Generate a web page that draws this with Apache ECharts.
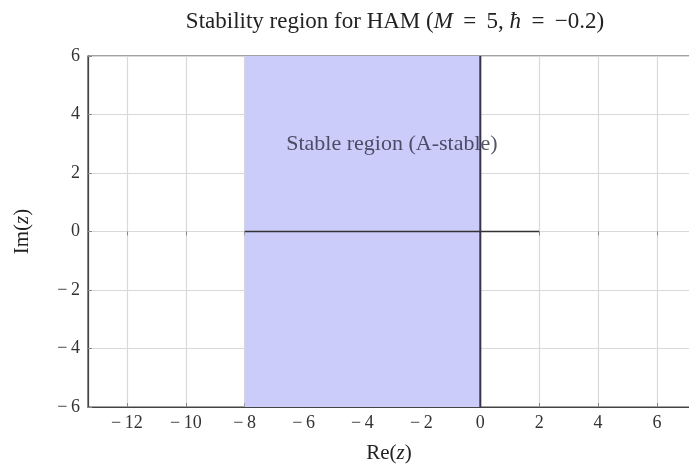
<!DOCTYPE html>
<html>
<head>
<meta charset="utf-8">
<script src="https://cdn.jsdelivr.net/npm/echarts@6/dist/echarts.min.js"></script>
<style>html,body{margin:0;padding:0;background:#fff}#c{width:689px;height:466px}</style>
</head>
<body>
<div id="c"></div>
<script>
// Data
const xTicks = [-12, -10, -8, -6, -4, -2, 0, 2, 4, 6];
const yTicks = [-6, -4, -2, 0, 2, 4, 6];
const xRange = [-13.32, 7.12];
const yRange = [-6, 6];
const stableRegionX = [-8, 0];
const stableRegionY = [-6, 6];
const realAxisLine = [[-8, 0], [2, 0]];
const imagAxisLine = [[0, -6], [0, 6]];
const regionLabel = { x: -3, y: 3, text: 'Stable region (A-stable)' };

const FONT = '"Liberation Serif", "DejaVu Serif", serif';
const minusFmt = v => (v < 0 ? '\u2212\u2009' + Math.abs(v) : String(v));
const TXT = '#222';

const chart = echarts.init(document.getElementById('c'));
chart.setOption({
  animation: false,
  backgroundColor: '#fff',
  title: {
    text: 'Stability region for HAM ({i|M} \u2009=\u2009 5, {i|\u0127} \u2009=\u2009 \u22120.2)',
    left: 390, top: 5, textAlign: 'center',
    textStyle: {
      fontFamily: FONT, fontSize: 23, fontWeight: 'normal', color: TXT,
      rich: { i: { fontFamily: FONT, fontSize: 23, fontStyle: 'italic', color: TXT } }
    }
  },
  grid: { left: 88, top: 56, width: 602, height: 351, outerBoundsMode: 'none', containLabel: false, show: true, borderColor: '#444', borderWidth: 1.2, backgroundColor: 'transparent' },
  xAxis: [{
    type: 'value', min: xRange[0], max: xRange[1],
    name: 'Re({i|z})', nameLocation: 'middle', nameGap: 36,
    nameTextStyle: { fontFamily: FONT, fontSize: 21, color: TXT, rich: { i: { fontFamily: FONT, fontSize: 21, fontStyle: 'italic', color: TXT } } },
    axisLine: { show: true, onZero: false, lineStyle: { color: '#444', width: 1.2 } },
    axisTick: { show: true, inside: true, length: 4, customValues: xTicks, lineStyle: { color: '#888' } },
    axisLabel: { customValues: xTicks, formatter: minusFmt, fontFamily: FONT, fontSize: 18, color: '#333', margin: 7 },
    splitLine: { show: true, lineStyle: { color: '#d9d9d9', width: 1.2 } }
  }, {
    type: 'value', position: 'top', min: xRange[0], max: xRange[1],
    axisLine: { show: false },
    axisTick: { show: true, inside: true, length: 4, customValues: xTicks, lineStyle: { color: '#888' } },
    axisLabel: { show: false },
    splitLine: { show: false }
  }],
  yAxis: {
    type: 'value', min: yRange[0], max: yRange[1], interval: 2,
    name: 'Im({i|z})', nameLocation: 'middle', nameGap: 55, nameRotate: 90,
    nameTextStyle: { fontFamily: FONT, fontSize: 21, color: TXT, rich: { i: { fontFamily: FONT, fontSize: 21, fontStyle: 'italic', color: TXT } } },
    axisLine: { show: true, onZero: false, lineStyle: { color: '#444', width: 1.2 } },
    axisTick: { show: true, inside: true, length: 4, lineStyle: { color: '#888' } },
    axisLabel: { formatter: minusFmt, fontFamily: FONT, fontSize: 18, color: '#333', margin: 8 },
    splitLine: { show: true, lineStyle: { color: '#d9d9d9', width: 1.2 } }
  },
  series: [{
    type: 'line', data: [], silent: true,
    markArea: {
      silent: true,
      itemStyle: { color: '#ccccfb', opacity: 1 },
      data: [[{ xAxis: stableRegionX[0], yAxis: stableRegionY[0] }, { xAxis: stableRegionX[1], yAxis: stableRegionY[1] }]]
    }
  }, {
    type: 'line', data: realAxisLine, symbol: 'none', z: 3,
    lineStyle: { color: '#333', width: 1.6 }
  }, {
    type: 'line', data: imagAxisLine, symbol: 'none', z: 3,
    lineStyle: { color: '#34344a', width: 2 }
  }, {
    type: 'scatter', data: [[regionLabel.x, regionLabel.y]], symbolSize: 0, z: 4,
    label: { show: true, position: 'inside', formatter: regionLabel.text, fontFamily: FONT, fontSize: 22, color: '#2a2a40' }
  }]
});
</script>
</body>
</html>
